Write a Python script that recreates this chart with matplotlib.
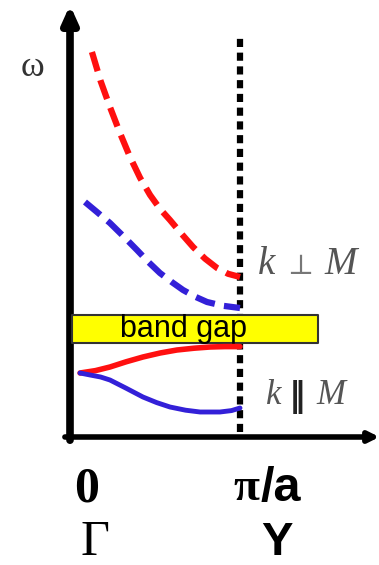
import matplotlib.pyplot as plt

# dispersion branches, k in units of pi/a, omega in arbitrary units
k_red_dash = [0.129, 0.18, 0.235, 0.294, 0.353, 0.412, 0.471, 0.53, 0.588, 0.656,
              0.724, 0.794, 0.865, 0.93, 1.0]
w_red_dash = [0.9625, 0.89, 0.825, 0.76, 0.70, 0.648, 0.605, 0.57, 0.5425, 0.508,
              0.475, 0.446, 0.4225, 0.408, 0.40]

k_blue_dash = [0.088, 0.16, 0.235, 0.314, 0.394, 0.46, 0.529, 0.6, 0.665, 0.735,
               0.806, 0.9, 1.0]
w_blue_dash = [0.5875, 0.562, 0.535, 0.502, 0.4675, 0.438, 0.41, 0.387, 0.3675,
               0.351, 0.3375, 0.328, 0.3225]

k_red_solid = [0.059, 0.15, 0.235, 0.33, 0.429, 0.53, 0.629, 0.73, 0.824, 0.91, 1.0]
w_red_solid = [0.16, 0.166, 0.175, 0.188, 0.20, 0.21, 0.2175, 0.222, 0.225, 0.226, 0.226]

k_blue_solid = [0.059, 0.118, 0.18, 0.235, 0.33, 0.429, 0.51, 0.588, 0.68, 0.765,
                0.882, 0.95, 1.0]
w_blue_solid = [0.16, 0.155, 0.15, 0.1425, 0.122, 0.10, 0.086, 0.075, 0.067, 0.0625,
                0.0625, 0.066, 0.0725]

gap_k = (0.012, 1.459)
gap_w = (0.235, 0.305)
zone_edge = 1.0

tick_pos = [0.0, 1.0]
tick_bottom = ["Γ", "Y"]

RED = "#ff1010"
BLUE = "#3320d8"
GRAY = "#555555"

fig = plt.figure(figsize=(3.79, 5.65), dpi=100)
ax = fig.add_axes([0, 0, 1, 1])
ax.set_xlim(-70 / 170, 309 / 170)
ax.set_ylim(-128 / 400, 437 / 400)
ax.axis("off")

# axes arrows
ax.annotate("", xy=(0, 1.08), xytext=(0, -0.008),
            arrowprops=dict(arrowstyle="-|>,head_length=1.0,head_width=0.45",
                            lw=5.5, color="black", shrinkA=0, shrinkB=0))
ax.annotate("", xy=(1.82, 0), xytext=(-0.03, 0),
            arrowprops=dict(arrowstyle="-|>,head_length=0.6,head_width=0.3",
                            lw=4, color="black", shrinkA=0, shrinkB=0))

# zone boundary
ax.plot([zone_edge, zone_edge], [0.0125, 1.0], color="black", lw=4.5,
        linestyle=(0, (1.3, 0.9)), dash_capstyle="butt")

# band gap
ax.fill_between(gap_k, gap_w[0], gap_w[1], facecolor="#ffff00",
                edgecolor="#333333", lw=1.5, zorder=3)
ax.text(0.665, sum(gap_w) / 2, "band gap", family="Liberation Sans",
        fontsize=22, ha="center", va="center", zorder=4)

# branches
ax.plot(k_red_dash, w_red_dash, color=RED, lw=4.5, linestyle=(0, (3.2, 1.5)),
        solid_joinstyle="round")
ax.plot(k_blue_dash, w_blue_dash, color=BLUE, lw=4.5, linestyle=(0, (3.2, 1.5)),
        solid_joinstyle="round")
ax.plot(k_red_solid, w_red_solid, color=RED, lw=4, solid_capstyle="round", zorder=5)
ax.plot(k_blue_solid, w_blue_solid, color=BLUE, lw=3.5, solid_capstyle="round", zorder=5)

# branch labels
serif_it = dict(family="Liberation Serif", style="italic", color=GRAY,
                ha="center", va="center")
ax.text(1.153, 0.43, "k", fontsize=28, **serif_it)
ax.text(1.353, 0.425, "⊥", family="DejaVu Serif", fontsize=20, color="#777777",
        ha="center", va="center")
ax.text(1.594, 0.43, "M", fontsize=28, **serif_it)

ax.text(1.2, 0.105, "k", fontsize=25, **serif_it)
ax.text(1.335, 0.1, "‖", family="DejaVu Sans", fontsize=24, fontweight="bold",
        color="#222222", ha="center", va="center")
ax.text(1.535, 0.105, "M", fontsize=25, **serif_it)

ax.text(-0.22, 0.925, "ω", family="Liberation Serif", fontsize=26, color="#333333",
        ha="center", va="center")

# tick labels
ax.text(tick_pos[0] + 0.1, -0.13, "0", family="Liberation Serif", fontsize=36,
        fontweight="bold", ha="center", va="center")
ax.text(tick_pos[1] + 0.115, -0.13, "π", family="Liberation Serif", fontsize=34,
        fontweight="bold", ha="right", va="center")
ax.text(tick_pos[1] + 0.12, -0.13, "/a", family="Liberation Sans", fontsize=35,
        fontweight="bold", ha="left", va="center")
ax.text(tick_pos[0] + 0.147, -0.265, tick_bottom[0], family="Liberation Serif",
        fontsize=36, ha="center", va="center")
ax.text(tick_pos[1] + 0.22, -0.265, tick_bottom[1], family="Liberation Sans",
        fontsize=34, fontweight="bold", ha="center", va="center")

fig.savefig("out.png", dpi=100)
